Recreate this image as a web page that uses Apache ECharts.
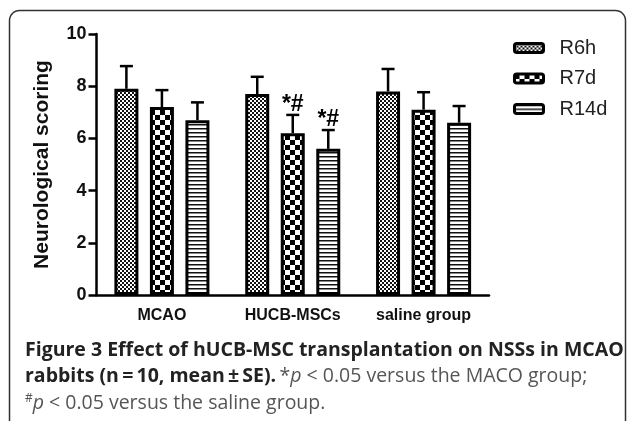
<!DOCTYPE html>
<html><head><meta charset="utf-8">
<script src="https://cdn.jsdelivr.net/npm/echarts@6/dist/echarts.min.js"></script>
<style>html,body{margin:0;padding:0;background:#fff;overflow:hidden}#c{width:627px;height:421px}</style>
</head><body><div id="c"></div>
<script>
// ---- data ----
const categories = ['MCAO', 'HUCB-MSCs', 'saline group'];
const seriesNames = ['R6h', 'R7d', 'R14d'];
const r6h = [7.9, 7.7, 7.8];
const r7d = [7.2, 6.2, 7.1];
const r14d = [6.7, 5.6, 6.6];
const r6hSE = [0.87, 0.66, 0.86];
const r7dSE = [0.65, 0.70, 0.67];
const r14dSE = [0.68, 0.72, 0.64];
const r6hMarks = ['', '', ''];
const r7dMarks = ['', '*#', ''];
const r14dMarks = ['', '*#', ''];
const yTicks = [0, 2, 4, 6, 8, 10];

// ---- patterns ----
function makePattern(kind) {
  const c = document.createElement('canvas');
  let g;
  if (kind === 'fine') {
    c.width = 4; c.height = 4; g = c.getContext('2d');
    g.fillStyle = '#fff'; g.fillRect(0, 0, 4, 4);
    g.fillStyle = '#111'; g.fillRect(0, 0, 2, 2); g.fillRect(2, 2, 2, 2);
  } else if (kind === 'check') {
    c.width = 10; c.height = 10; g = c.getContext('2d');
    g.fillStyle = '#fff'; g.fillRect(0, 0, 10, 10);
    g.fillStyle = '#000'; g.fillRect(0, 0, 5, 5); g.fillRect(5, 5, 5, 5);
  } else {
    c.width = 4; c.height = 4; g = c.getContext('2d');
    g.fillStyle = '#fff'; g.fillRect(0, 0, 4, 4);
    g.fillStyle = '#111'; g.fillRect(0, 0, 4, 1.5);
  }
  return { image: c, repeat: 'repeat' };
}
const patterns = [makePattern('fine'), makePattern('check'), makePattern('stripe')];
const values = [r6h, r7d, r14d];
const ses = [r6hSE, r7dSE, r14dSE];
const marks = [r6hMarks, r7dMarks, r14dMarks];

const BAR_W = 24, GAP_RATIO = 0.48;
const STEP = BAR_W * (1 + GAP_RATIO);

const barSeries = seriesNames.map((n, i) => ({
  type: 'bar', name: n, data: values[i], barWidth: BAR_W, barGap: (GAP_RATIO * 100) + '%',
  itemStyle: { color: patterns[i], borderColor: '#000', borderWidth: 3 },
  z: 3
}));

const errSeries = seriesNames.map((n, idx) => ({
  type: 'custom', name: n + ' SE', z: 2,
  data: values[idx].map((v, i) => [i, v, v + ses[idx][i]]),
  renderItem: (params, api) => {
    const x = api.value(0);
    const top = api.coord([x, api.value(1)]);
    const end = api.coord([x, api.value(2)]);
    const cx = top[0] + (idx - 1) * STEP;
    const children = [
      { type: 'line', shape: { x1: cx, y1: top[1], x2: cx, y2: end[1] }, style: { stroke: '#000', lineWidth: 2.5 } },
      { type: 'line', shape: { x1: cx - 6.5, y1: end[1], x2: cx + 6.5, y2: end[1] }, style: { stroke: '#000', lineWidth: 2.5 } }
    ];
    const m = marks[idx][params.dataIndex];
    if (m) children.push({ type: 'text', style: { text: m, x: cx, y: end[1] + 1, align: 'center', verticalAlign: 'bottom', font: 'bold 23px "Liberation Sans"', fill: '#000' } });
    return { type: 'group', children };
  }
}));

// frame outline (open at the bottom), rounded top corners
function framePoints(x0, y0, x1, yEnd, r) {
  const pts = [[x0, yEnd]];
  for (let k = 0; k <= 8; k++) { const a = Math.PI - k * Math.PI / 16; pts.push([x0 + r + r * Math.cos(a), y0 + r - r * Math.sin(a)]); }
  for (let k = 0; k <= 8; k++) { const a = Math.PI / 2 - k * Math.PI / 16; pts.push([x1 - r + r * Math.cos(a), y0 + r - r * Math.sin(a)]); }
  pts.push([x1, yEnd]);
  return pts;
}

const chart = echarts.init(document.getElementById('c'), null, { renderer: 'canvas' });
const font = '"Liberation Sans", Arial, sans-serif';
const capFont = '"Open Sans", sans-serif';
const CAP = 19.5;
chart.setOption({
  animation: false,
  backgroundColor: '#fff',
  grid: { left: 96.5, right: 138, top: 34, bottom: 126, containLabel: false },
  legend: {
    data: seriesNames, orient: 'vertical', left: 513, top: 38, padding: 0,
    itemWidth: 29, itemHeight: 9, itemGap: 10.5, icon: 'roundRect',
    itemStyle: { borderColor: '#000', borderWidth: 3 },
    textStyle: { fontFamily: font, fontSize: 20, color: '#222', padding: [0, 0, 0, 11] }
  },
  xAxis: {
    type: 'category', data: categories,
    axisLine: { lineStyle: { color: '#000', width: 2.5 } },
    axisTick: { alignWithLabel: true, length: 8, lineStyle: { color: '#000', width: 2.5 } },
    axisLabel: { fontFamily: font, fontSize: 16, fontWeight: 'bold', color: '#111', margin: 13 }
  },
  yAxis: {
    type: 'value', min: yTicks[0], max: yTicks[yTicks.length - 1], interval: yTicks[1] - yTicks[0],
    name: 'Neurological scoring', nameLocation: 'middle', nameGap: 44,
    nameTextStyle: { fontFamily: font, fontSize: 21, fontWeight: 'bold', color: '#111' },
    axisLine: { show: true, lineStyle: { color: '#000', width: 2.5 } },
    axisTick: { show: true, length: 8, lineStyle: { color: '#000', width: 2.5 } },
    axisLabel: { fontFamily: font, fontSize: 18, fontWeight: 'bold', color: '#111', margin: 10 },
    splitLine: { show: false }
  },
  series: [...barSeries, ...errSeries],
  graphic: [
    { type: 'polyline', silent: true, z: 0,
      shape: { points: framePoints(9.5, 10.5, 625.5, 440, 10) },
      style: { fill: 'none', stroke: '#333', lineWidth: 1.5 } },
    { type: 'text', x: 25, y: 350, style: {
      verticalAlign: 'middle',
      text: '{b|Figure 3 Effect of hUCB-MSC transplantation on NSSs in MCAO}',
      rich: { b: { fontFamily: capFont, fontSize: CAP, fontWeight: 'bold', fill: '#222' } } } },
    { type: 'text', x: 25, y: 376.5, style: {
      verticalAlign: 'middle',
      text: '{b|rabbits (n\u2009=\u200910, mean\u2009\u00b1\u2009SE).} {r|*}{i|p}{r| < 0.05 versus the MACO group;}',
      rich: {
        b: { fontFamily: capFont, fontSize: CAP, fontWeight: 'bold', fill: '#222' },
        r: { fontFamily: capFont, fontSize: CAP, fill: '#555' },
        i: { fontFamily: capFont, fontSize: CAP, fontStyle: 'italic', fill: '#555' }
      } } },
    { type: 'text', x: 25, y: 403, style: {
      verticalAlign: 'middle',
      text: '{s|#}{i|p}{r| < 0.05 versus the saline group.}',
      rich: {
        s: { fontFamily: capFont, fontSize: 12, fill: '#555', verticalAlign: 'top' },
        r: { fontFamily: capFont, fontSize: CAP, fill: '#555' },
        i: { fontFamily: capFont, fontSize: CAP, fontStyle: 'italic', fill: '#555' }
      } } }
  ]
});
</script></body></html>
